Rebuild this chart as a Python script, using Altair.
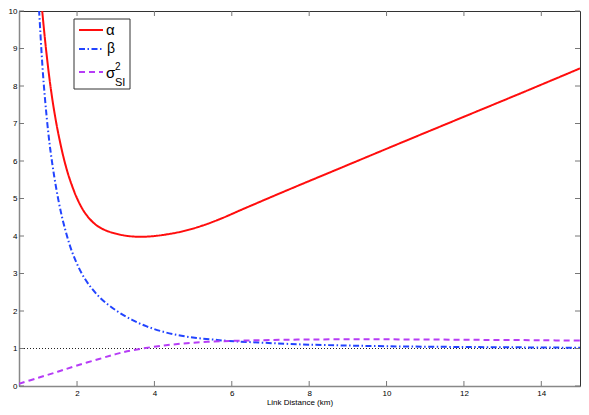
import altair as alt
import pandas as pd

# ---- data ----
alpha_x = [1.04, 1.10, 1.205, 1.31, 1.415, 1.52, 1.665, 1.81, 2.02, 2.23, 2.485, 2.74, 3.14,
           3.54, 3.90, 4.30, 4.75, 5.25, 5.76, 6.25, 6.77, 7.50, 8.50, 9.29, 10.5, 12.0, 13.5, 15.0]
alpha_y = [10.7, 10.0, 8.92, 8.02, 7.30, 6.71, 6.04, 5.52, 4.96, 4.58, 4.30, 4.15, 4.03,
           3.98, 3.99, 4.04, 4.13, 4.28, 4.48, 4.70, 4.93, 5.25, 5.68, 6.02, 6.54, 7.18, 7.82, 8.47]

beta_x = [0.98, 1.02, 1.14, 1.31, 1.52, 1.70, 1.90, 2.19, 2.57, 3.00, 3.41, 3.80, 4.25, 4.70,
          5.09, 5.50, 5.93, 6.69, 7.50, 8.50, 10.0, 12.0, 13.5, 15.0]
beta_y = [10.7, 10.0, 8.05, 6.30, 4.95, 4.15, 3.50, 2.88, 2.38, 2.02, 1.77, 1.59, 1.44, 1.34,
          1.28, 1.24, 1.20, 1.16, 1.12, 1.09, 1.06, 1.04, 1.03, 1.02]

sigma_x = [0.5, 1.0, 1.5, 1.98, 2.57, 3.0, 3.41, 4.25, 5.09, 5.93, 6.69, 8.0, 9.5, 11.0, 12.5, 14.0, 15.0]
sigma_y = [0.06, 0.22, 0.38, 0.54, 0.72, 0.85, 0.95, 1.08, 1.16, 1.20, 1.22, 1.24, 1.245, 1.24, 1.23, 1.22, 1.21]

ref_level = [1.0]
x_ticks = [2, 4, 6, 8, 10, 12, 14]
y_ticks = [0, 1, 2, 3, 4, 5, 6, 7, 8, 9, 10]

series_names = ["alpha", "beta", "sigma"]
series_colors = ["#FF0D0D", "#2244FF", "#B63CF6"]
series_dashes = [[1, 0], [6, 2.5, 1.5, 2.5], [6, 4]]

rows = []
for name, xs, ys in zip(series_names, [alpha_x, beta_x, sigma_x], [alpha_y, beta_y, sigma_y]):
    for xv, yv in zip(xs, ys):
        rows.append({"series": name, "x": xv, "y": yv})
df = pd.DataFrame(rows)

W, H = 561, 375
FONT = "Liberation Sans"
xscale = alt.Scale(domain=[0.5, 15], nice=False, zero=False)
yscale = alt.Scale(domain=[0, 10], nice=False, zero=False)
xaxis = alt.Axis(values=x_ticks, title="Link Distance (km)", grid=False, ticks=False,
                 labelPadding=3, titlePadding=1, labelFlush=False)
yaxis = alt.Axis(values=y_ticks, title=None, grid=False, ticks=False,
                 labelPadding=2, labelFlush=False)

lines = alt.Chart(df).mark_line(clip=True, strokeWidth=2, interpolate="catmull-rom").encode(
    x=alt.X("x:Q", scale=xscale, axis=xaxis),
    y=alt.Y("y:Q", scale=yscale, axis=yaxis),
    color=alt.Color("series:N", scale=alt.Scale(domain=series_names, range=series_colors), legend=None),
    strokeDash=alt.StrokeDash("series:N", scale=alt.Scale(domain=series_names, range=series_dashes), legend=None),
)

dotted = alt.Chart(pd.DataFrame({"y": ref_level})).mark_rule(
    color="#222", strokeWidth=1, strokeDash=[1, 2]
).encode(y=alt.Y("y:Q", scale=yscale, axis=yaxis))

xt = pd.DataFrame({"x": x_ticks})
yt = pd.DataFrame({"y": y_ticks})
tick_color = "#777"
bottom_ticks = alt.Chart(xt).mark_rule(color=tick_color).encode(
    x=alt.X("x:Q", scale=xscale, axis=xaxis), y=alt.value(H), y2=alt.value(H - 5))
top_ticks = alt.Chart(xt).mark_rule(color=tick_color).encode(
    x=alt.X("x:Q", scale=xscale, axis=xaxis), y=alt.value(0), y2=alt.value(5))
left_ticks = alt.Chart(yt).mark_rule(color=tick_color).encode(
    y=alt.Y("y:Q", scale=yscale, axis=yaxis), x=alt.value(0), x2=alt.value(5))
right_ticks = alt.Chart(yt).mark_rule(color=tick_color).encode(
    y=alt.Y("y:Q", scale=yscale, axis=yaxis), x=alt.value(W), x2=alt.value(W - 5))

# ---- legend (drawn by hand to get sub/superscripts) ----
one = pd.DataFrame({"a": [0]})
box = alt.Chart(one).mark_rect(
    fill="white", stroke="#333", strokeWidth=1
).encode(x=alt.value(55), x2=alt.value(111), y=alt.value(8), y2=alt.value(78))

legend_rows = [19, 38, 61]
legend_layers = [box]
for name, color, dash, ry in zip(series_names, series_colors, series_dashes, legend_rows):
    legend_layers.append(
        alt.Chart(one).mark_rule(color=color, strokeWidth=2, strokeDash=dash)
        .encode(x=alt.value(60), x2=alt.value(84), y=alt.value(ry))
    )

def txt(s, x, y, size):
    return alt.Chart(one).mark_text(
        text=s, font=FONT, fontSize=size, align="left", baseline="alphabetic", color="#000"
    ).encode(x=alt.value(x), y=alt.value(y))

legend_layers += [
    txt("α", 87, 24, 15),
    txt("β", 88, 42, 14),
    txt("σ", 87, 67, 15),
    txt("2", 96, 59, 10),
    txt("SI", 96, 75, 11),
]

chart = alt.layer(
    dotted, lines, bottom_ticks, top_ticks, left_ticks, right_ticks, *legend_layers
).properties(
    width=W, height=H,
    autosize=alt.AutoSizeParams(type="none"),
    padding={"left": 11, "top": 3, "right": 1, "bottom": 21},
).configure_view(
    stroke="#333", strokeWidth=1
).configure_axis(
    labelFont=FONT, labelFontSize=8, labelColor="#000",
    titleFont=FONT, titleFontSize=8, titleFontWeight="normal", titleColor="#000",
    domainColor="#888", domainWidth=1.5,
)

chart.save("out.html", embed_options={"renderer": "svg", "actions": False})
